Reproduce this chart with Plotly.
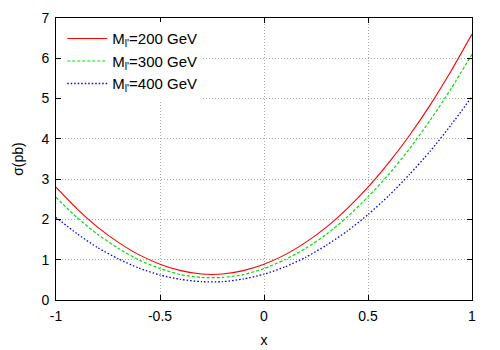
"""Cross section sigma(pb) versus x for three masses, gnuplot-like look."""

import plotly.graph_objects as go

# ---------------------------------------------------------------------------
# Data
# ---------------------------------------------------------------------------

x_vals = [-1.0, -0.9, -0.8, -0.7, -0.6, -0.5, -0.4, -0.3, -0.2, -0.1, 0.0,
          0.1, 0.2, 0.3, 0.4, 0.5, 0.6, 0.7, 0.8, 0.9, 1.0]

sigma_200 = [2.80, 2.27, 1.81, 1.43, 1.12, 0.89, 0.73, 0.645, 0.645, 0.73, 0.89,
             1.12, 1.43, 1.81, 2.27, 2.80, 3.41, 4.09, 4.85, 5.69, 6.60]
sigma_300 = [2.55, 2.05, 1.63, 1.28, 0.99, 0.78, 0.63, 0.56, 0.56, 0.63, 0.78,
             1.00, 1.28, 1.63, 2.06, 2.56, 3.12, 3.76, 4.47, 5.25, 6.10]
sigma_400 = [2.05, 1.65, 1.30, 1.02, 0.79, 0.62, 0.51, 0.455, 0.455, 0.52, 0.64,
             0.82, 1.06, 1.36, 1.71, 2.12, 2.59, 3.12, 3.70, 4.35, 5.05]

series_names = ["M<sub>l'</sub>=200 GeV", "M<sub>l'</sub>=300 GeV", "M<sub>l'</sub>=400 GeV"]

x_ticks = [-1, -0.5, 0, 0.5, 1]
x_tick_labels = ["-1", "-0.5", "0", "0.5", "1"]
y_ticks = [0, 1, 2, 3, 4, 5, 6, 7]

# ---------------------------------------------------------------------------
# Styling
# ---------------------------------------------------------------------------

_FONT = "Liberation Sans, Arial, sans-serif"
_STYLES = [
    dict(color="#ff0000", width=1.1, dash="solid"),
    dict(color="#00e000", width=1.2, dash="3px,2px"),
    dict(color="#0000ff", width=1.3, dash="1.5px,2px"),
]

fig = go.Figure()
for name, ys, style in zip(series_names, [sigma_200, sigma_300, sigma_400], _STYLES):
    fig.add_trace(
        go.Scatter(
            x=x_vals,
            y=ys,
            mode="lines",
            name=name,
            line=dict(shape="spline", smoothing=0.6, **style),
        )
    )

_axis = dict(
    automargin=False,
    showline=True,
    linecolor="black",
    linewidth=1,
    mirror="ticks",
    ticks="inside",
    ticklen=5,
    tickcolor="black",
    ticklabelstandoff=3,
    showgrid=True,
    gridcolor="#a8a8a8",
    griddash="1px,2px",
    gridwidth=1,
    zeroline=False,
    tickfont=dict(family=_FONT, size=14, color="black"),
)

# The page body adds an 8px offset, so the figure is sized to fit the window.
fig.update_layout(
    width=492,
    height=342,
    margin=dict(l=48, r=28, t=10, b=50),
    paper_bgcolor="white",
    plot_bgcolor="white",
    font=dict(family=_FONT, size=14, color="black"),
    showlegend=True,
    legend=dict(
        x=0.015,
        y=0.985,
        xanchor="left",
        yanchor="top",
        bgcolor="white",
        font=dict(family=_FONT, size=15, color="black"),
        tracegroupgap=0,
        itemwidth=40,
    ),
    xaxis=dict(
        range=[-1, 1],
        tickvals=x_ticks,
        ticktext=x_tick_labels,
        title=dict(text="x", font=dict(family=_FONT, size=14), standoff=12),
        **_axis,
    ),
    yaxis=dict(
        range=[0, 7],
        tickvals=y_ticks,
        title=dict(text="σ(pb)", font=dict(family=_FONT, size=14), standoff=14),
        **_axis,
    ),
)

fig.write_html("out.html")
